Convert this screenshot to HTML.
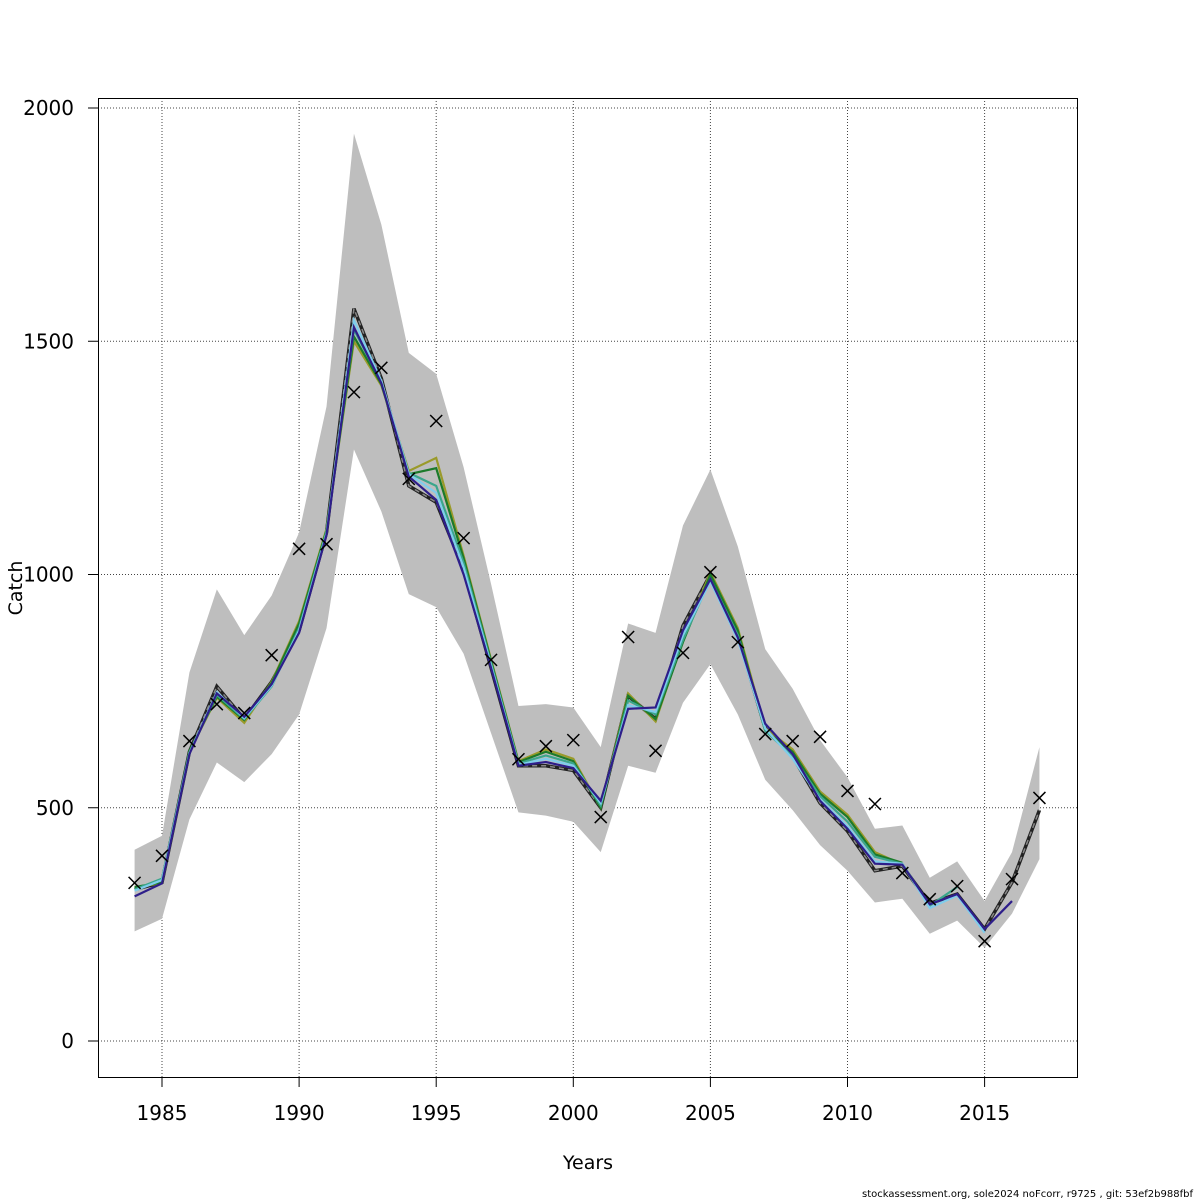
<!DOCTYPE html>
<html><head><meta charset="utf-8"><style>
html,body{margin:0;padding:0;background:#fff;}
svg{display:block;font-family:"DejaVu Sans","Liberation Sans",sans-serif;}
</style></head><body>
<svg id="chart" width="1200" height="1200" viewBox="0 0 1200 1200">
<rect x="0" y="0" width="1200" height="1200" fill="#fff"/>
<g id="grid"></g>
<g id="band"></g>
<g id="lines"></g>
<g id="obs"></g>
<rect x="98.5" y="98.5" width="979" height="979" fill="none" stroke="#000" stroke-width="1"/>
<g id="axes"></g>
<text x="588" y="1169" font-size="19" text-anchor="middle">Years</text>
<text x="22" y="588" font-size="19" text-anchor="middle" transform="rotate(-90 22 588)">Catch</text>
<text x="1193" y="1197" font-size="10" text-anchor="end">stockassessment.org, sole2024  noFcorr, r9725 , git: 53ef2b988fbf</text>
</svg>
<script>
const years=[1984,1985,1986,1987,1988,1989,1990,1991,1992,1993,1994,1995,1996,1997,1998,1999,2000,2001,2002,2003,2004,2005,2006,2007,2008,2009,2010,2011,2012,2013,2014,2015,2016,2017];
const observed=[339,397,643,722,703,827,1055,1065,1391,1443,1205,1329,1078,817,604,632,645,480,866,622,832,1005,855,658,643,652,536,508,360,304,332,214,347,521];
const estimate=[325,340,620,760,690,770,880,1090,1570,1420,1190,1155,1010,800,590,590,580,500,740,690,890,1000,870,670,610,510,450,365,375,295,315,240,340,495];
const upper=[410,440,790,968,870,955,1090,1360,1945,1750,1475,1430,1230,980,718,722,715,630,895,875,1105,1225,1060,840,755,645,565,455,462,350,385,300,405,630];
const lower=[235,262,475,597,555,615,700,885,1268,1135,958,930,830,660,490,483,470,405,590,575,725,808,700,560,495,420,365,297,305,230,258,200,273,390];
const peel1=[310,338,615,745,695,765,875,1085,1530,1410,1210,1160,1000,800,590,598,585,515,712,715,880,990,865,680,615,515,455,380,378,293,315,240,300];
const peel2=[322,345,617,748,692,762,880,1088,1545,1415,1215,1175,1015,805,592,605,590,510,720,705,870,985,860,670,605,518,460,385,380,285,312,232];
const peel3=[325,348,618,742,690,760,885,1092,1525,1412,1218,1190,1025,810,595,612,595,505,730,700,860,990,870,665,610,525,470,395,380,290,330];
const peel4=[330,340,622,738,688,768,895,1095,1510,1408,1215,1228,1035,815,598,620,600,500,740,690,855,1000,880,665,620,530,480,400,382];
const peel5=[330,338,620,736,682,770,900,1098,1500,1405,1222,1250,1040,818,600,625,605,500,745,685,860,1005,885,670,625,535,485,405,378];
const yTicks=[0,500,1000,1500,2000];
const xTicks=[1985,1990,1995,2000,2005,2010,2015];
const NS="http://www.w3.org/2000/svg";
const X=v=>162+(v-1985)*27.42;
const Y=v=>1041-v*0.4665;
function mk(tag,attrs,parent){const e=document.createElementNS(NS,tag);for(const k in attrs)e.setAttribute(k,attrs[k]);parent.appendChild(e);return e;}
const grid=document.getElementById('grid'),axes=document.getElementById('axes');
yTicks.forEach(t=>{
 const g=mk('line',{x1:98,x2:1077,y1:Y(t),y2:Y(t),stroke:'#444','stroke-width':1,'stroke-dasharray':'1,2'},grid);
 
 
 const tk=mk('line',{x1:88,x2:98,y1:Y(t),y2:Y(t),stroke:'#000'},axes);
 
 
 const tx=mk('text',{x:74,y:Y(t)+7,'font-size':20,'text-anchor':'end'},axes);tx.textContent=t;
 
 
});
xTicks.forEach(t=>{
 const g=mk('line',{x1:X(t),x2:X(t),y1:98,y2:1077,stroke:'#444','stroke-width':1,'stroke-dasharray':'1,2'},grid);
 
 
 const tk=mk('line',{x1:X(t),x2:X(t),y1:1077,y2:1087,stroke:'#000'},axes);
 
 
 const tx=mk('text',{x:X(t),y:1120,'font-size':20,'text-anchor':'middle'},axes);tx.textContent=t;
 
 
});
let d=years.map((y,i)=>(i?'L':'M')+X(y)+','+Y(upper[i])).join('');
for(let i=years.length-1;i>=0;i--)d+='L'+X(years[i])+','+Y(lower[i]);
const b=mk('path',{d:d+'Z',fill:'#bebebe'},document.getElementById('band'));


const lines=document.getElementById('lines');
function pl(arr,attrs,name){
 const p=mk('polyline',Object.assign({points:arr.map((v,i)=>X(years[i])+','+Y(v)).join(' '),fill:'none'},attrs),lines);
 
 
}
pl(estimate,{stroke:'#222','stroke-width':3.5},'estimate-line');
pl(estimate,{stroke:'#888','stroke-width':1.5,'stroke-dasharray':'5,4'},'estimate-dash');
pl(peel5,{stroke:'#9a9a2a','stroke-width':2.2},'retro-peel-5');
pl(peel4,{stroke:'#1c7a2a','stroke-width':2.2},'retro-peel-4');
pl(peel3,{stroke:'#3aa68c','stroke-width':2.2},'retro-peel-3');
pl(peel2,{stroke:'#7fcdec','stroke-width':2.2},'retro-peel-2');
pl(peel1,{stroke:'#2e1e8a','stroke-width':2.2},'retro-peel-1');
const obs=document.getElementById('obs');
years.forEach((y,i)=>{
 const cx=X(y),cy=Y(observed[i]);
 const p=mk('path',{d:`M${cx-6},${cy-6}L${cx+6},${cy+6}M${cx-6},${cy+6}L${cx+6},${cy-6}`,stroke:'#000','stroke-width':1.5},obs);
 
 
});
</script>
</body></html>
